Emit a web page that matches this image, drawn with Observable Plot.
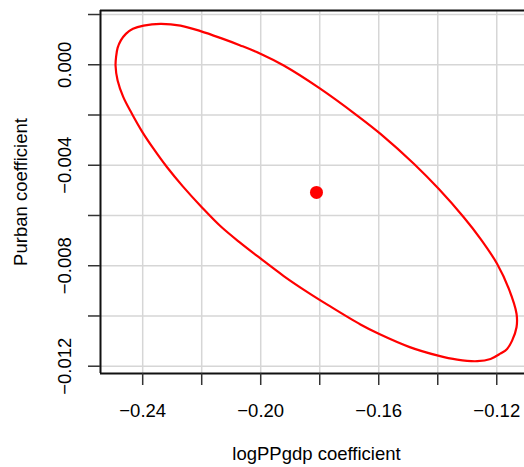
<!DOCTYPE html>
<html><head><meta charset="utf-8">
<script src="https://cdn.jsdelivr.net/npm/d3@7"></script>
<script src="https://cdn.jsdelivr.net/npm/@observablehq/plot@0.6"></script>
<style>html,body{margin:0;padding:0;background:#fff;overflow:hidden}</style>
</head><body><div id="chart"></div>
<script>
const xTicks = [-0.24, -0.22, -0.20, -0.18, -0.16, -0.14, -0.12];
const xTickLabels = ["−0.24", "", "−0.20", "", "−0.16", "", "−0.12"];
const yTicks = [0.002, 0.000, -0.002, -0.004, -0.006, -0.008, -0.010, -0.012];
const yTickLabels = ["", "0.000", "", "−0.004", "", "−0.008", "", "−0.012"];

// confidence ellipse outline (clockwise from top)
const ellipseX = [-0.2340, -0.2272, -0.2204, -0.2137, -0.2069, -0.2001, -0.1922, -0.1801, -0.1673, -0.1594,
  -0.1481, -0.1397, -0.1312, -0.1255, -0.1199, -0.1159, -0.1133, -0.1133, -0.1148, -0.1165,
  -0.1188, -0.1221, -0.1266, -0.1334, -0.1402, -0.1495, -0.1600, -0.1662, -0.1770, -0.1843,
  -0.1922, -0.2001, -0.2069, -0.2137, -0.2199, -0.2264, -0.2318, -0.2364, -0.2402, -0.2437,
  -0.2466, -0.2485, -0.2492, -0.2490, -0.2485, -0.2474, -0.2457, -0.2433, -0.2397];
const ellipseY = [0.00163, 0.00156, 0.00134, 0.00107, 0.00077, 0.00044, -0.00003, -0.00093, -0.00202, -0.00275,
  -0.00394, -0.00494, -0.00607, -0.00693, -0.00792, -0.00892, -0.00991, -0.01045, -0.01098, -0.01131,
  -0.01150, -0.01171, -0.01180, -0.01174, -0.01157, -0.01124, -0.01071, -0.01034, -0.00958, -0.00904,
  -0.00841, -0.00771, -0.00709, -0.00642, -0.00568, -0.00484, -0.00407, -0.00333, -0.00266, -0.00194,
  -0.00128, -0.00063, -0.00003, 0.00033, 0.00067, 0.00097, 0.00123, 0.00143, 0.00156];
const centerX = [-0.1811];
const centerY = [-0.00508];

const xDomain = [-0.2543, -0.1106];
const yDomain = [-0.01229, 0.00216];

const ellipse = ellipseX.map((x, i) => ({x, y: ellipseY[i]}));
const center = centerX.map((x, i) => ({x, y: centerY[i]}));
const yLabelData = yTicks.map((v, i) => ({v, t: yTickLabels[i]})).filter(d => d.t);
const FS = 18.5;

const chart = Plot.plot({
  width: 524,
  height: 467,
  marginLeft: 100,
  marginRight: 0,
  marginTop: 10,
  marginBottom: 94,
  style: {fontFamily: "'Liberation Sans', Arial, Helvetica, sans-serif", fontSize: FS + "px", background: "white", color: "black"},
  x: {domain: xDomain},
  y: {domain: yDomain},
  marks: [
    Plot.gridX(xTicks, {stroke: "#d6d6d6", strokeOpacity: 1, strokeWidth: 1.5}),
    Plot.gridY(yTicks, {stroke: "#d6d6d6", strokeOpacity: 1, strokeWidth: 1.5}),
    Plot.line(ellipse, {x: "x", y: "y", curve: "catmull-rom-closed", stroke: "red", strokeWidth: 2.2}),
    Plot.dot(center, {x: "x", y: "y", r: 6.5, fill: "red", stroke: null}),
    Plot.ruleY([yDomain[1]], {stroke: "#111", strokeWidth: 2}),
    Plot.ruleY([yDomain[0]], {stroke: "#111", strokeWidth: 2}),
    Plot.ruleX([xDomain[0]], {stroke: "#111", strokeWidth: 2}),
    Plot.axisX(xTicks, {tickSize: 12, tickPadding: 18, tickFormat: d => xTickLabels[xTicks.indexOf(d)], fontSize: FS, stroke: "#333", strokeWidth: 1.5, color: "black", label: null}),
    Plot.axisY(yTicks, {tickSize: 12, tickFormat: () => "", stroke: "#333", strokeWidth: 1.5, label: null}),
    Plot.text(yLabelData, {y: "v", text: "t", frameAnchor: "left", dx: -35, rotate: -90, textAnchor: "middle", lineAnchor: "middle", fontSize: FS, fill: "black"}),
    Plot.text(["Purban coefficient"], {frameAnchor: "left", dx: -73.3, rotate: -90, textAnchor: "middle", lineAnchor: "bottom", fontSize: FS, fill: "black"}),
    Plot.text(["logPPgdp coefficient"], {frameAnchor: "bottom", dx: 4, dy: 86, textAnchor: "middle", lineAnchor: "bottom", fontSize: FS, fill: "black"})
  ]
});
document.getElementById("chart").appendChild(chart);
</script>
</body></html>
